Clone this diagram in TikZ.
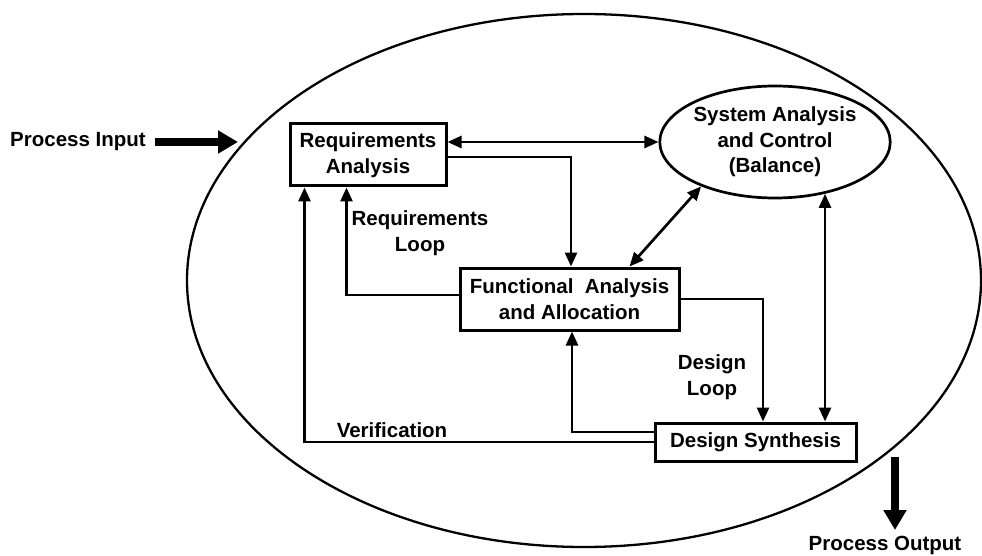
\documentclass[tikz,border=0pt]{standalone}
\usepackage{fontspec}
\setmainfont{Liberation Sans}
\usetikzlibrary{arrows.meta,shapes.geometric}
\begin{document}
\begin{tikzpicture}[x=1pt,y=-1pt,
  txt/.style={font=\bfseries\fontsize{20.5}{25.5}\selectfont, align=center, inner sep=0pt},
  boxnode/.style={txt, draw, line width=3pt, minimum width=#1},
  conn/.style={line width=2.7pt, -{Triangle[length=14pt,width=12pt]}},
  dconn/.style={line width=2.7pt, {Triangle[length=14pt,width=12pt]}-{Triangle[length=14pt,width=12pt]}},
  fat/.style={line width=8pt, -{Triangle[length=20pt,width=22pt]}}
]
\useasboundingbox (0,0) rectangle (982,556);
% big process ellipse
\node[draw, line width=2.3pt, ellipse, minimum width=794pt, minimum height=533pt, inner sep=0pt] (proc) at (584,280.5) {};

\node[boxnode=156pt, minimum height=62pt] (RA) at (368,155) {Requirements\\Analysis};
\node[boxnode=219pt, minimum height=62pt] (FA) at (569.5,299) {Functional\ \ Analysis\\and Allocation};
\node[boxnode=201pt, minimum height=38pt] (DS) at (755.5,442) {Design Synthesis};
\node[txt, draw, line width=2.7pt, ellipse, minimum width=209pt, minimum height=112pt] (SAC) at (775,142) {System Analysis\\and Control\\(Balance)};

% labels
\node[txt, anchor=west] (pin) at (10,142) {Process Input};
\node[txt] (pout) at (885,545) {Process Output};
\node[txt] (rl) at (420,233) {Requirements\\Loop};
\node[txt] (dl) at (712,377) {Design\\Loop};
\node[txt] (ver) at (392,430) {Verification};

\coordinate (pinS) at (155,142);
\coordinate (pinE) at (238,142);
\coordinate (poS) at (895,457);
\coordinate (poE) at (895,530);
\draw[fat] (pinS) -- (pinE);
\draw[fat] (poS) -- (poE);

% connectors
\draw[dconn] (RA.east |- SAC.west) -- (SAC.west);
\draw[conn] ([yshift=-2pt]RA.east) -| ([xshift=1.5pt]FA.north);
\draw[dconn] ([xshift=-51pt]FA.north east) -- (SAC.211.5);
\draw[dconn] (SAC.-46.2) -- (SAC.-46.2 |- DS.north);
\draw[conn] (FA.east) -| ([xshift=7.5pt]DS.north);
\draw[conn] ([yshift=10pt]DS.west) -| ([xshift=2.5pt]FA.south);
\draw[conn] (DS.west) -| ([xshift=16pt]RA.south west);
\draw[conn] ([yshift=4pt]FA.west) -| ([xshift=58pt]RA.south west);
\end{tikzpicture}
\end{document}
